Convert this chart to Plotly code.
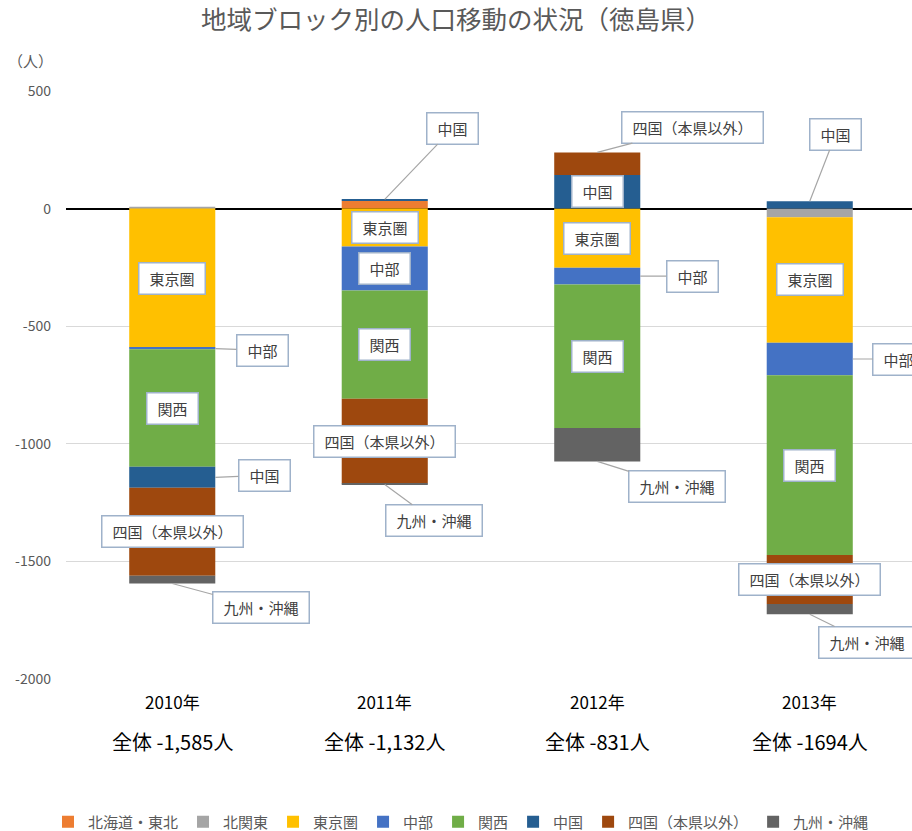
import plotly.graph_objects as go

# ---- data ----
years = ["2010年", "2011年", "2012年", "2013年"]
totals = ["全体 -1,585人", "全体 -1,132人", "全体 -831人", "全体 -1694人"]
regions = ["北海道・東北", "北関東", "東京圏", "中部", "関西", "中国", "四国（本県以外）", "九州・沖縄"]
hokkaido_tohoku = [0, 33, 0, 0]
kita_kanto = [8, 0, 0, -37]
tokyo_ken = [-592, -161, -252, -533]
chubu = [-6, -187, -71, -139]
kansai = [-500, -460, -610, -764]
chugoku = [-89, 6, 143, 31]
shikoku = [-374, -361, 96, -208]
kyushu_okinawa = [-33, -4, -142, -44]
series = [hokkaido_tohoku, kita_kanto, tokyo_ken, chubu, kansai, chugoku, shikoku, kyushu_okinawa]
colors = ["#ED7D31", "#A5A5A5", "#FFC000", "#4472C4", "#70AD47", "#255E91", "#9E480E", "#636363"]

y_ticks = [500, 0, -500, -1000, -1500, -2000]

FONT = "Noto Sans CJK JP"
BAR_W = 0.405
ML, MT, MB = 66, 91, 152
PW, PH = 912 - ML, 831 - MT - MB

fig = go.Figure()
for name, vals, col in zip(regions, series, colors):
    fig.add_trace(go.Bar(name=name, x=years, y=vals, marker_color=col,
                         marker_line_width=0, width=BAR_W))

# compute segment positions from the data
seg = {}
tops, bottoms = [], []
for i in range(len(years)):
    pos, neg = 0, 0
    for name, vals in zip(regions, series):
        v = vals[i]
        if v >= 0:
            seg[(i, name)] = (pos, pos + v)
            pos += v
        else:
            seg[(i, name)] = (neg + v, neg)
            neg += v
    tops.append(pos)
    bottoms.append(neg)

# label placement: (year index, region, mode, ax, ay)
labels = [
    (0, "東京圏", "in", 0, 0),
    (0, "中部", "right", 47, 2),
    (0, "関西", "in", 0, 0),
    (0, "中国", "right", 49, -2),
    (0, "四国（本県以外）", "in", 0, 0),
    (0, "九州・沖縄", "bottom", 89, 24),
    (1, "中国", "top", 68, -71),
    (1, "東京圏", "in", 0, 0),
    (1, "中部", "in", 0, 0),
    (1, "関西", "in", 0, 0),
    (1, "四国（本県以外）", "in", 0, 0),
    (1, "九州・沖縄", "bottom", 49, 36),
    (2, "四国（本県以外）", "top", 95, -25),
    (2, "中国", "in", 0, 0),
    (2, "東京圏", "in", 0, 0),
    (2, "中部", "right", 52, 0),
    (2, "関西", "in", 0, 0),
    (2, "九州・沖縄", "bottom", 80, 25),
    (3, "中国", "top", 26, -67),
    (3, "東京圏", "in", 0, 0),
    (3, "中部", "right", 46, 0),
    (3, "関西", "in", 0, 0),
    (3, "四国（本県以外）", "in", 0, 0),
    (3, "九州・沖縄", "bottom", 57, 28),
]

box_font = dict(family=FONT, size=15, color="#404040")
for i, name, mode, ax, ay in labels:
    lo, hi = seg[(i, name)]
    mid = (lo + hi) / 2
    w = 15 * len(name) + 14
    common = dict(text=name, font=box_font, bgcolor="white", bordercolor="#9FB2CA",
                  borderwidth=1.5, borderpad=3, width=w, height=24, xref="x", yref="y")
    if mode == "in":
        fig.add_annotation(x=i, y=mid, showarrow=False, **common)
    else:
        if mode == "right":
            px, py = i + BAR_W / 2, mid
        elif mode == "top":
            px, py = i, tops[i]
        else:
            px, py = i, bottoms[i]
        fig.add_annotation(x=px, y=py, showarrow=True, arrowhead=0, arrowwidth=1.2,
                           arrowcolor="#A6A6A6", ax=ax, ay=ay, standoff=0, **common)

# category labels (two lines)
for i, (yr, tot) in enumerate(zip(years, totals)):
    fig.add_annotation(x=i, y=0, xref="x", yref="paper", yshift=-22, yanchor="middle",
                       text=yr, showarrow=False, font=dict(family=FONT, size=17, color="#000000"))
    fig.add_annotation(x=i, y=0, xref="x", yref="paper", yshift=-62, yanchor="middle",
                       text=tot, showarrow=False, font=dict(family=FONT, size=20, color="#000000"))

# unit label
fig.add_annotation(x=(30 - ML) / PW, y=(MT + PH - 60) / PH, xref="paper", yref="paper",
                   text="（人）", showarrow=False, xanchor="center", yanchor="middle",
                   font=dict(family=FONT, size=15, color="#595959"))

fig.update_layout(
    width=912, height=831,
    barmode="relative",
    plot_bgcolor="white", paper_bgcolor="white",
    margin=dict(l=ML, r=0, t=MT, b=MB, autoexpand=False),
    title=dict(text="地域ブロック別の人口移動の状況（徳島県）", x=0.5, xanchor="center",
               y=1 - 20 / 831, yanchor="middle",
               font=dict(family=FONT, size=25.5, color="#595959")),
    font=dict(family=FONT),
    showlegend=True,
    legend=dict(orientation="h", xref="container", yref="container",
                x=461 / 912, xanchor="center", y=1 - 822 / 831, yanchor="middle",
                font=dict(family=FONT, size=15, color="#595959"), traceorder="normal",
                itemwidth=30),
    xaxis=dict(range=[-0.5, 3.5 - 4 / 212.5], showticklabels=False, showgrid=False,
               zeroline=False, showline=False, ticks=""),
    yaxis=dict(range=[-2000, 500], tickvals=y_ticks, ticktext=[str(v) for v in y_ticks],
               showgrid=True, gridcolor="#D9D9D9", gridwidth=1,
               zeroline=True, zerolinecolor="#000000", zerolinewidth=1.5,
               ticklabelstandoff=14,
               tickfont=dict(family=FONT, size=14, color="#595959"), showline=False),
)

fig.write_html("out.html", config={"displayModeBar": False},
               post_script="document.body.style.margin='0px';")
